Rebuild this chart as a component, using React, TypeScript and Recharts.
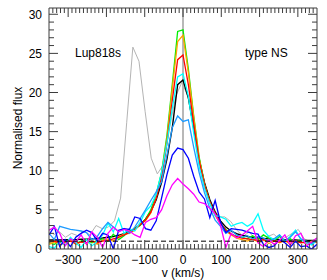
import React from "react";
import { LineChart, Line, XAxis, YAxis, ReferenceLine } from "recharts";

// velocity grid of the coloured profiles (km/s)
const velocity = [
  -350, -336, -322, -308, -294, -280, -266, -252, -238, -224, -210, -196, -182,
  -168, -154, -140, -126, -112, -98, -84, -70, -56, -42, -28, -14, 0, 14, 28,
  42, 56, 70, 84, 98, 112, 126, 140, 154, 168, 182, 196, 210, 224, 238, 252,
  266, 280, 294, 308, 322, 336, 350,
];

const blackFlux = [
  1.15, 1.15, 1.15, 1.2, 1.2, 1.2, 1.25, 1.25, 1.3, 1.35, 1.4, 1.5, 1.6, 1.75,
  1.95, 2.2, 2.6, 3.1, 3.8, 4.8, 6.3, 8.5, 11.5, 15.5, 21.0, 21.6, 19.3, 15.5,
  11.5, 8.5, 6.3, 4.7, 3.6, 2.8, 2.3, 1.95, 1.75, 1.6, 1.5, 1.4, 1.35, 1.3,
  1.25, 1.2, 1.2, 1.15, 1.15, 1.1, 1.1, 1.1, 1.1,
];

const greenFlux = [
  0.8, 0.6, 1.0, 0.9, 1.3, 0.7, 1.0, 1.2, 0.8, 1.1, 1.3, 1.0, 1.9, 1.2, 1.7,
  2.3, 2.6, 3.0, 3.8, 5.0, 7.0, 9.8, 14.5, 21.0, 27.8, 28.0, 23.0, 17.0, 11.8,
  8.3, 6.0, 4.4, 3.3, 2.5, 1.9, 1.6, 1.5, 1.3, 1.7, 1.2, 1.8, 1.4, 1.1, 1.6,
  1.0, 1.3, 0.9, 1.2, 1.0, 0.8, 1.0,
];

const orangeFlux = [
  0.6, 0.9, 0.5, 0.8, 1.1, 0.6, 0.9, 0.7, 1.0, 0.6, 1.1, 1.3, 1.0, 1.6, 1.9,
  2.0, 2.4, 3.2, 3.6, 4.6, 6.6, 9.5, 14.0, 20.5, 26.5, 27.3, 22.5, 16.8, 11.6,
  8.2, 5.9, 4.3, 3.2, 2.3, 1.8, 1.4, 1.2, 1.0, 1.3, 0.9, 1.2, 0.7, 1.0, 0.8,
  1.1, 0.6, 1.0, 0.9, 0.7, 1.0, 0.8,
];

const redFlux = [
  0.9, 1.0, 0.8, 0.9, 1.0, 0.7, 0.9, 0.8, 1.0, 0.8, 1.0, 1.1, 1.3, 1.5, 1.8,
  2.1, 2.5, 3.1, 3.7, 4.7, 6.5, 9.2, 13.5, 19.0, 24.2, 24.8, 21.0, 16.0, 11.3,
  8.2, 6.0, 4.6, 3.3, 2.4, 1.9, 1.6, 1.4, 1.3, 1.2, 1.1, 1.2, 1.0, 1.1, 0.9,
  1.0, 0.9, 1.0, 0.8, 0.9, 0.8, 0.9,
];

const cyanFlux = [
  0.3, 0.1, 1.0, 0.5, 1.5, 0.8, 0.2, 1.2, 0.4, 1.0, 1.8, 3.3, 2.2, 3.9, 2.0,
  2.6, 2.3, 3.4, 4.8, 5.5, 7.0, 9.8, 13.5, 18.0, 22.0, 22.4, 19.5, 14.8, 10.6,
  7.8, 5.8, 4.3, 4.1, 3.8, 2.9, 3.2, 3.4, 2.9, 3.3, 4.5, 2.4, 1.6, 1.2, 1.8,
  1.0, 1.6, 2.4, 1.2, 0.8, 0.5, 1.1,
];

const skyFlux = [
  2.0, 1.2, 2.9, 2.7, 2.5, 2.4, 2.3, 2.1, 1.2, 1.6, 2.6, 3.4, 2.8, 2.2, 2.6,
  2.0, 2.8, 3.9, 5.0, 6.2, 7.3, 8.6, 12.0, 15.5, 17.0, 16.3, 16.5, 13.0, 9.8,
  7.2, 5.2, 3.7, 2.9, 2.0, 2.4, 1.8, 1.5, 1.7, 1.3, 1.6, 1.4, 1.0, 1.3, 1.8,
  1.0, 1.5, 2.2, 1.3, 1.0, 0.7, 1.1,
];

const blueFlux = [
  1.8, 2.9, 0.3, 1.2, 0.3, 1.5, 2.0, 2.4, 2.1, 1.0, 2.0, 1.8, 0.0, 2.4, 2.6,
  2.5, 4.1, 3.9, 2.6, 2.4, 3.6, 6.5, 9.5, 12.0, 12.9, 12.7, 11.6, 9.3, 7.3,
  6.4, 4.0, 6.2, 3.4, 2.1, 2.6, 2.5, 2.4, 2.2, 2.0, 1.9, 0.6, 0.2, 0.4, 1.2,
  0.8, 0.2, 1.0, 0.3, 0.4, 0.0, 0.6,
];

const magentaFlux = [
  2.4, 2.8, 2.0, 0.4, 1.3, 0.9, 1.8, 0.6, 2.2, 1.5, 0.2, 2.0, 2.8, 2.2, 2.5,
  2.3, 1.8, 1.5, 3.4, 3.8, 4.0, 5.0, 6.8, 8.2, 9.0, 8.3, 7.7, 7.0, 6.0, 5.8,
  5.2, 4.5, 3.0, 0.2, 2.0, 1.4, 1.8, 2.3, 2.9, 0.8, 0.3, 1.2, 0.6, 1.1, 1.8,
  0.5, 1.7, 2.0, 0.4, 0.9, 1.4,
];

// the grey comparison line has its own velocity sampling
const grayVelocity = [
  -339, -323, -307, -291, -275, -259, -243, -227, -211, -195, -179, -163, -147,
  -131, -115, -99, -83, -67, -51, -35, -19, -3, 13, 29, 45, 61, 77, 93, 109,
  125, 141, 157, 173, 189, 205, 221, 237, 253, 269, 285, 301, 317, 333, 349,
];

const grayFlux = [
  1.8, 2.2, 1.5, 2.0, 1.7, 2.3, 1.8, 3.0, 2.6, 2.8, 3.6, 6.5, 16.2, 25.8, 24.0,
  17.6, 11.6, 9.6, 10.8, 15.5, 19.5, 21.3, 19.5, 15.0, 10.5, 7.5, 5.5, 4.1,
  4.1, 3.5, 2.4, 1.6, 2.2, 1.2, 0.8, 1.6, 1.9, 1.2, 1.5, 2.0, 2.5, 1.3, 0.9,
  1.4,
];

const xTicks = [-300, -200, -100, 0, 100, 200, 300];
const yTicks = [0, 5, 10, 15, 20, 25, 30];
const xDomain: [number, number] = [-350, 350];
const yDomain: [number, number] = [0, 30.8];

const FONT = "'Liberation Sans', Arial, Helvetica, sans-serif";
const FRAME = "#3c3c3c";

const range = (from: number, to: number, step: number) => {
  const out: number[] = [];
  for (let v = from; v <= to + 1e-9; v += step) out.push(v);
  return out;
};
const xMinorTicks = range(-340, 340, 10);
const yMinorTicks = range(1, 30, 1);

const toPoints = (v: number[], f: number[]) =>
  v.map((x, i) => ({ v: x, flux: f[i] }));

const series = [
  { key: "gray", data: toPoints(grayVelocity, grayFlux), color: "#b4b4b4", width: 1 },
  { key: "black", data: toPoints(velocity, blackFlux), color: "#000000", width: 1.4 },
  { key: "green", data: toPoints(velocity, greenFlux), color: "#00ee00", width: 1.3 },
  { key: "orange", data: toPoints(velocity, orangeFlux), color: "#ffa500", width: 1.3 },
  { key: "red", data: toPoints(velocity, redFlux), color: "#ff0000", width: 1.3 },
  { key: "cyan", data: toPoints(velocity, cyanFlux), color: "#00ffff", width: 1.3 },
  { key: "sky", data: toPoints(velocity, skyFlux), color: "#1e9bff", width: 1.3 },
  { key: "blue", data: toPoints(velocity, blueFlux), color: "#0000ff", width: 1.3 },
  { key: "magenta", data: toPoints(velocity, magentaFlux), color: "#ff00ff", width: 1.3 },
];

// inward tick marks, long on the major values
function tickMark(side: "top" | "bottom" | "left" | "right", majorStep: number) {
  return (props: any) => {
    const { x, y, payload } = props;
    const major = Math.abs(payload.value % majorStep) < 1e-6;
    const len = major ? 9 : 5;
    let x2 = x;
    let y2 = y;
    if (side === "bottom") y2 = y - len;
    if (side === "top") y2 = y + len;
    if (side === "left") x2 = x + len;
    if (side === "right") x2 = x - len;
    return <line x1={x} y1={y} x2={x2} y2={y2} stroke={FRAME} strokeWidth={1} />;
  };
}

const textStyle: React.CSSProperties = {
  position: "absolute",
  fontFamily: FONT,
  fontSize: 12,
  lineHeight: "12px",
  color: "#000",
  whiteSpace: "nowrap",
};

export default function App() {
  return (
    <div style={{ position: "absolute", left: 0, top: 0, width: 327, height: 280, background: "#fff" }}>
      <LineChart
        width={327}
        height={280}
        margin={{ top: 8, right: 10, left: 0, bottom: 0 }}
        style={{ fontFamily: FONT }}
      >
        <XAxis
          xAxisId="x"
          dataKey="v"
          type="number"
          domain={xDomain}
          allowDataOverflow
          ticks={xTicks}
          interval={0}
          height={31}
          tickSize={0}
          tickMargin={6}
          tickLine={false}
          axisLine={false}
          tick={{ fill: "#000", fontSize: 12, fontFamily: FONT }}
          tickFormatter={(v) => String(v).replace("-", "\u2212")}
        />
        <XAxis
          xAxisId="xb"
          dataKey="v"
          type="number"
          orientation="bottom"
          mirror
          domain={xDomain}
          allowDataOverflow
          ticks={xMinorTicks}
          interval={0}
          tickSize={0}
          tickMargin={0}
          tickLine={false}
          axisLine={{ stroke: FRAME }}
          tick={tickMark("bottom", 100)}
        />
        <XAxis
          xAxisId="xt"
          dataKey="v"
          type="number"
          orientation="top"
          mirror
          domain={xDomain}
          allowDataOverflow
          ticks={xMinorTicks}
          interval={0}
          tickSize={0}
          tickMargin={0}
          tickLine={false}
          axisLine={{ stroke: FRAME }}
          tick={tickMark("top", 100)}
        />
        <YAxis
          yAxisId="y"
          type="number"
          domain={yDomain}
          allowDataOverflow
          ticks={yTicks}
          interval={0}
          width={49}
          tickSize={0}
          tickMargin={7}
          tickLine={false}
          axisLine={false}
          tick={{ fill: "#000", fontSize: 12, fontFamily: FONT }}
        />
        <YAxis
          yAxisId="yl"
          type="number"
          orientation="left"
          mirror
          domain={yDomain}
          allowDataOverflow
          ticks={yMinorTicks}
          interval={0}
          tickSize={0}
          tickMargin={0}
          tickLine={false}
          axisLine={{ stroke: FRAME }}
          tick={tickMark("left", 5)}
        />
        <YAxis
          yAxisId="yr"
          type="number"
          orientation="right"
          mirror
          domain={yDomain}
          allowDataOverflow
          ticks={yMinorTicks}
          interval={0}
          tickSize={0}
          tickMargin={0}
          tickLine={false}
          axisLine={{ stroke: FRAME }}
          tick={tickMark("right", 5)}
        />
        {/* invisible carriers so the frame axes get a domain */}
        <Line
          xAxisId="xb"
          yAxisId="yl"
          data={series[1].data}
          dataKey="flux"
          stroke="none"
          dot={false}
          activeDot={false}
          isAnimationActive={false}
        />
        <Line
          xAxisId="xt"
          yAxisId="yr"
          data={series[1].data}
          dataKey="flux"
          stroke="none"
          dot={false}
          activeDot={false}
          isAnimationActive={false}
        />
        <ReferenceLine xAxisId="x" yAxisId="y" x={0} stroke="#b8b8b8" strokeWidth={2} />
        {series.map((s) => (
          <Line
            key={s.key}
            xAxisId="x"
            yAxisId="y"
            data={s.data}
            dataKey="flux"
            type="linear"
            stroke={s.color}
            strokeWidth={s.width}
            dot={false}
            activeDot={false}
            isAnimationActive={false}
          />
        ))}
        <ReferenceLine xAxisId="x" yAxisId="y" y={1} stroke="#000" strokeWidth={1} strokeDasharray="5 3" />
      </LineChart>
      <div style={{ ...textStyle, left: 75, top: 47 }}>Lup818s</div>
      <div style={{ ...textStyle, left: 245, top: 47 }}>type NS</div>
      <div style={{ ...textStyle, left: 183, top: 267, transform: "translateX(-50%)" }}>v (km/s)</div>
      <div
        style={{
          ...textStyle,
          left: 18,
          top: 128,
          transform: "translate(-50%, -50%) rotate(-90deg)",
        }}
      >
        Normalised flux
      </div>
    </div>
  );
}
